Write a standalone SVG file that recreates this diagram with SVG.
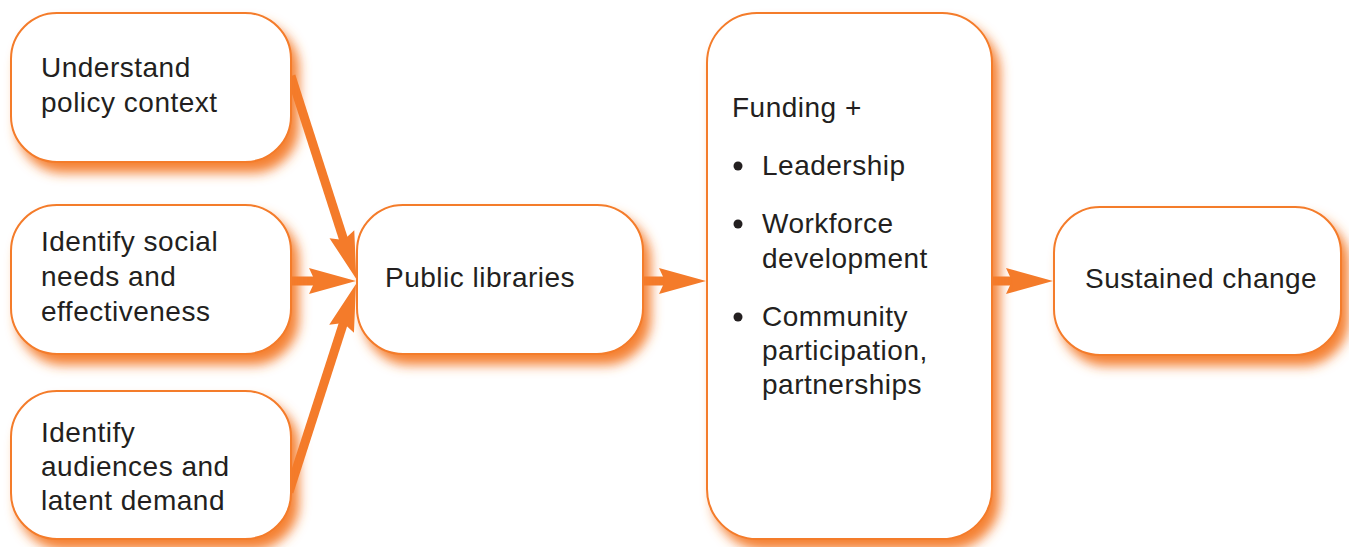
<svg xmlns="http://www.w3.org/2000/svg" width="1349" height="547" viewBox="0 0 1349 547">
  <defs>
    <filter id="glow" x="-15%" y="-15%" width="140%" height="150%">
      <feGaussianBlur in="SourceAlpha" stdDeviation="6" result="b"/>
      <feOffset in="b" dx="7" dy="10" result="o"/>
      <feFlood flood-color="#F47B2A" flood-opacity="0.95"/>
      <feComposite in2="o" operator="in" result="s"/>
      <feMerge>
        <feMergeNode in="s"/>
        <feMergeNode in="SourceGraphic"/>
      </feMerge>
    </filter>
    <marker id="head" markerUnits="userSpaceOnUse" viewBox="-20 -15 52 30" markerWidth="52" markerHeight="30" refX="0" refY="0" orient="auto">
      <path d="M30,0 L-17,-13 L-11,0 L-17,13 Z" fill="#F47B2A"/>
    </marker>
  </defs>
  <style>
    .box { fill: #ffffff; stroke: #F47B2A; stroke-width: 2; filter: url(#glow); }
    .lbl { font-family: "Liberation Sans", Arial, Helvetica, sans-serif; font-size: 28px; letter-spacing: 0.5px; fill: #231F20; }
    .arrow { stroke: #F47B2A; stroke-width: 9; fill: none; marker-end: url(#head); }
    .dot { fill: #231F20; }
  </style>

  <rect width="1349" height="547" fill="#ffffff"/>

  <g id="connectors">
    <line class="arrow" x1="291" y1="76" x2="347.1" y2="250.4"/>
    <line class="arrow" x1="280" y1="281" x2="326" y2="281"/>
    <line class="arrow" x1="289" y1="492" x2="346.8" y2="312.6"/>
    <line class="arrow" x1="636" y1="281" x2="676" y2="281"/>
    <line class="arrow" x1="985" y1="281" x2="1023" y2="281"/>
  </g>

  <g id="policy">
    <rect class="box" x="11" y="13" width="280" height="149" rx="46"/>
    <text class="lbl" x="41" y="77">Understand</text>
    <text class="lbl" x="41" y="112">policy context</text>
  </g>

  <g id="needs">
    <rect class="box" x="11" y="205" width="280" height="149" rx="46"/>
    <text class="lbl" x="41" y="251">Identify social</text>
    <text class="lbl" x="41" y="286">needs and</text>
    <text class="lbl" x="41" y="321">effectiveness</text>
  </g>

  <g id="audiences">
    <rect class="box" x="11" y="391" width="280" height="148" rx="46"/>
    <text class="lbl" x="41" y="442">Identify</text>
    <text class="lbl" x="41" y="476">audiences and</text>
    <text class="lbl" x="41" y="510">latent demand</text>
  </g>

  <g id="libraries">
    <rect class="box" x="357" y="205" width="286" height="149" rx="46"/>
    <text class="lbl" x="385" y="287">Public libraries</text>
  </g>

  <g id="funding">
    <rect class="box" x="707" y="13" width="285" height="526" rx="50"/>
    <text class="lbl" x="732" y="117">Funding +</text>
    <circle class="dot" cx="738" cy="166" r="4.5"/>
    <text class="lbl" x="762" y="175">Leadership</text>
    <circle class="dot" cx="738" cy="224" r="4.5"/>
    <text class="lbl" x="762" y="233">Workforce</text>
    <text class="lbl" x="762" y="268">development</text>
    <circle class="dot" cx="738" cy="317" r="4.5"/>
    <text class="lbl" x="762" y="326">Community</text>
    <text class="lbl" x="762" y="360">participation,</text>
    <text class="lbl" x="762" y="394">partnerships</text>
  </g>

  <g id="change">
    <rect class="box" x="1054" y="207" width="287" height="148" rx="46"/>
    <text class="lbl" x="1085" y="288">Sustained change</text>
  </g>
</svg>
